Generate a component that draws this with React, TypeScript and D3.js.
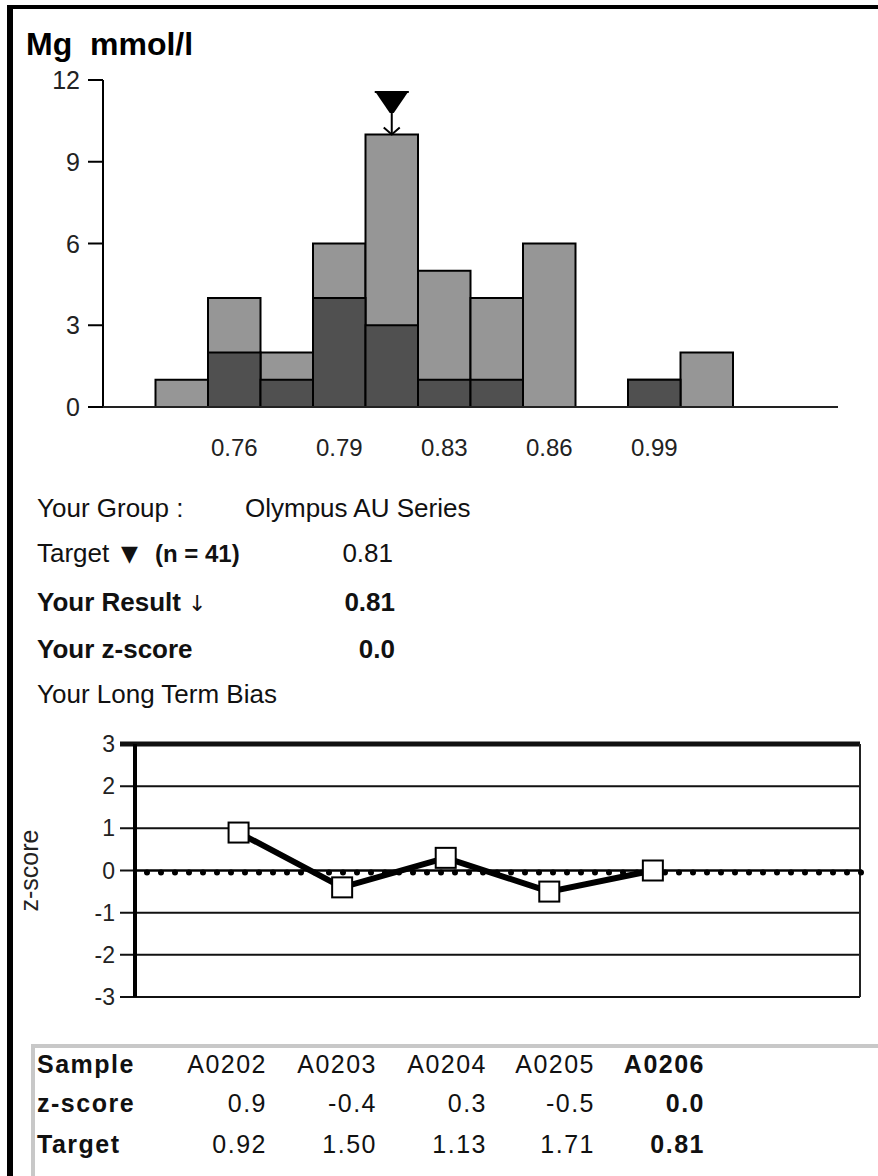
import React, { useEffect } from 'react'
import * as d3 from 'd3'

// histogram bins (14 bins, labels on every second one)
const binLabels = ['', '', '0.76', '', '0.79', '', '0.83', '', '0.86', '', '0.99', '', '', '']
const totalCounts = [0, 1, 4, 2, 6, 10, 5, 4, 6, 0, 1, 2, 0, 0]
const groupCounts = [0, 0, 2, 1, 4, 3, 1, 1, 0, 0, 1, 0, 0, 0]
const countTicks = [0, 3, 6, 9, 12]
const targetBin = 5

// long term bias
const samples = ['A0202', 'A0203', 'A0204', 'A0205', 'A0206']
const zScores = [0.9, -0.4, 0.3, -0.5, 0.0]
const zLabels = ['0.9', '-0.4', '0.3', '-0.5', '0.0']
const targets = ['0.92', '1.50', '1.13', '1.71', '0.81']
const zTicks = [3, 2, 1, 0, -1, -2, -3]

const FONT = '"Liberation Sans", Arial, Helvetica, sans-serif'

const App = () => {
    const W = 878, H = 1176

    useEffect(() => {
        document.body.style.margin = '0'
        document.body.style.overflow = 'hidden'
    }, [])

    // histogram scales
    const x = d3.scaleBand<number>().domain(d3.range(binLabels.length)).range([103, 838]).padding(0)
    const y = d3.scaleLinear().domain([0, 12]).range([407, 80])

    // z-score chart scales
    const xz = d3.scaleLinear().domain([0, 7]).range([135, 860])
    const yz = d3.scaleLinear().domain([-3, 3]).range([997, 744])
    const zLine = d3.line<number>().x((_, i) => xz(i + 1)).y(d => yz(d))

    const tx = x(targetBin)! + x.bandwidth() / 2
    const barTop = y(totalCounts[targetBin])
    const colX = [267, 377, 487, 595, 705]

    return (
        <svg width={W} height={H} style={{ position: 'absolute', left: 0, top: 0, background: '#fff', display: 'block' }} fontFamily={FONT}>
            {/* frame */}
            <rect x={7} y={5} width={W - 7} height={4} fill="#000" />
            <rect x={7} y={5} width={6} height={H - 5} fill="#000" />

            <text x={26} y={55} fontSize={32} fontWeight="bold" style={{ whiteSpace: 'pre' }}>{'Mg  mmol/l'}</text>

            {/* histogram */}
            {totalCounts.map((c, i) => c > 0 && (
                <rect key={'t' + i} x={x(i)} y={y(c)} width={x.bandwidth()} height={y(0) - y(c)}
                    fill="#969696" stroke="#000" strokeWidth={2} />
            ))}
            {groupCounts.map((c, i) => c > 0 && (
                <rect key={'g' + i} x={x(i)} y={y(c)} width={x.bandwidth()} height={y(0) - y(c)}
                    fill="#505050" stroke="#000" strokeWidth={2} />
            ))}
            <line x1={103} x2={103} y1={y(12)} y2={y(0)} stroke="#000" strokeWidth={2} />
            <line x1={88} x2={838} y1={y(0)} y2={y(0)} stroke="#222" strokeWidth={2} />
            {countTicks.map(t => (
                <g key={t}>
                    <line x1={88} x2={103} y1={y(t)} y2={y(t)} stroke="#000" strokeWidth={2} />
                    <text x={80} y={y(t) + 9} fontSize={25} textAnchor="end" fill="#222">{t}</text>
                </g>
            ))}
            {binLabels.map((l, i) => l && (
                <text key={'l' + i} x={x(i)! + x.bandwidth() / 2} y={456} fontSize={24} textAnchor="middle" fill="#222">{l}</text>
            ))}

            {/* target marker + result arrow */}
            <path d={`M${tx - 17},91 H${tx + 17} L${tx + 2},113 H${tx - 2} Z`} fill="#000" />
            <line x1={tx - 17} x2={tx + 17} y1={92} y2={92} stroke="#000" strokeWidth={2} />
            <line x1={tx} x2={tx} y1={110} y2={barTop} stroke="#000" strokeWidth={2} />
            <path d={`M${tx - 8},${barTop - 7} L${tx},${barTop} L${tx + 8},${barTop - 7}`} fill="none" stroke="#000" strokeWidth={2} />

            {/* result text */}
            <g fontSize={26} fill="#111">
                <text x={37} y={517}>Your Group :</text>
                <text x={245} y={517}>Olympus AU Series</text>
                <text x={37} y={562}>Target</text>
                <text x={121} y={561} fontSize={22} fontFamily="DejaVu Sans">▼</text>
                <text x={155} y={562} fontWeight="bold" fontSize={24}>(n = 41)</text>
                <text x={393} y={562} textAnchor="end">0.81</text>
                <text x={37} y={611} fontWeight="bold">Your Result</text>
                <text x={188} y={611} fontFamily="DejaVu Sans" fontSize={22} fill="#111">↓</text>
                <text x={395} y={611} textAnchor="end" fontWeight="bold">0.81</text>
                <text x={37} y={658} fontWeight="bold">Your z-score</text>
                <text x={395} y={658} textAnchor="end" fontWeight="bold">0.0</text>
                <text x={37} y={703}>Your Long Term Bias</text>
            </g>

            {/* z-score chart */}
            {zTicks.map(t => (
                <g key={'z' + t}>
                    <line x1={120} x2={860} y1={yz(t)} y2={yz(t)} stroke="#111" strokeWidth={t === 3 ? 5 : 2} />
                    <text x={115} y={yz(t) + 8} fontSize={23} textAnchor="end" fill="#222">{t}</text>
                </g>
            ))}
            <line x1={135} x2={135} y1={yz(3)} y2={yz(-3)} stroke="#000" strokeWidth={4} />
            <line x1={860} x2={860} y1={yz(3)} y2={yz(-3)} stroke="#222" strokeWidth={2} />
            <text transform={`translate(38,${yz(0)}) rotate(-90)`} fontSize={25} textAnchor="middle" fill="#222">z-score</text>

            {/* zero target line */}
            <line x1={xz(0)} x2={862} y1={yz(0)} y2={yz(0)} stroke="#000" strokeWidth={2} />
            <line x1={xz(0) + 12} x2={864} y1={yz(0) + 2} y2={yz(0) + 2} stroke="#000" strokeWidth={6}
                strokeDasharray="0 14" strokeLinecap="round" />

            <path d={zLine(zScores) ?? ''} fill="none" stroke="#000" strokeWidth={6} />
            {zScores.map((z, i) => (
                <rect key={'p' + i} x={xz(i + 1) - 10} y={yz(z) - 10} width={20} height={20}
                    fill="#fff" stroke="#000" strokeWidth={2} />
            ))}

            {/* table */}
            <path d={`M33,${H} V1046 H${W}`} fill="none" stroke="#c8c8c8" strokeWidth={4} />
            <g fontSize={25} fill="#111" letterSpacing={1.5}>
                <text x={37} y={1073} fontWeight="bold">Sample</text>
                <text x={37} y={1112} fontWeight="bold">z-score</text>
                <text x={37} y={1153} fontWeight="bold">Target</text>
                {samples.map((s, i) => (
                    <g key={s} fontWeight={i === samples.length - 1 ? 'bold' : 'normal'} textAnchor="end">
                        <text x={colX[i]} y={1073}>{s}</text>
                        <text x={colX[i]} y={1112}>{zLabels[i]}</text>
                        <text x={colX[i]} y={1153}>{targets[i]}</text>
                    </g>
                ))}
            </g>
        </svg>
    )
}

export default App
